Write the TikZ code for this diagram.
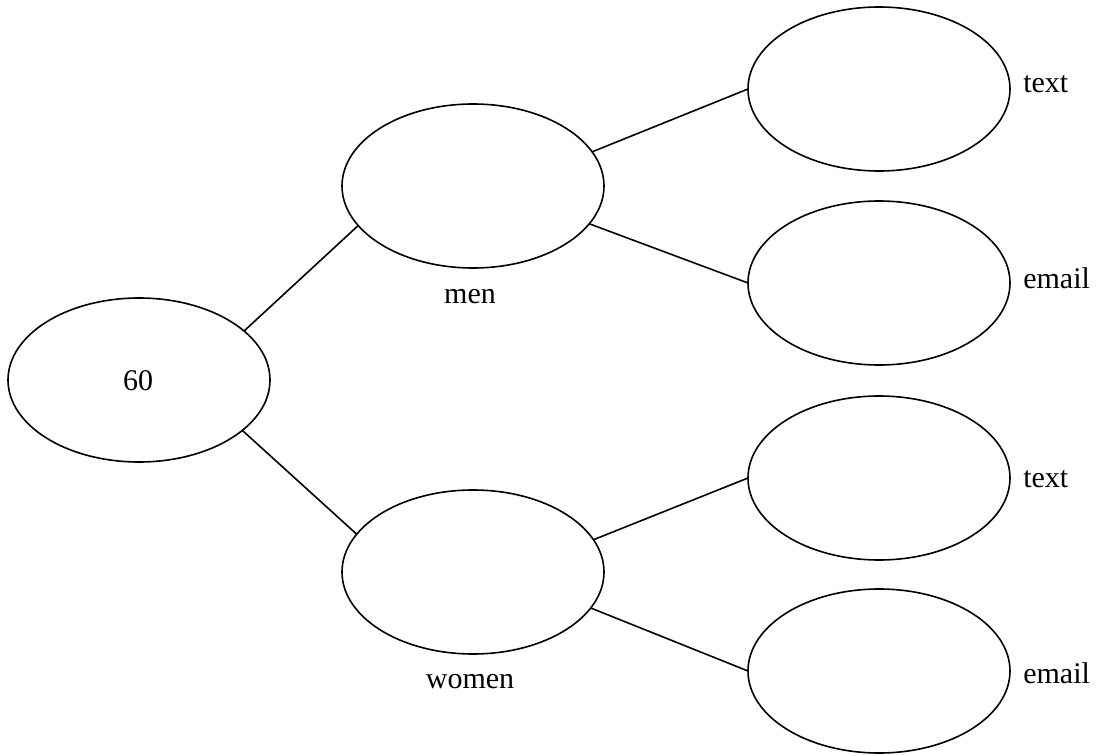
\documentclass[tikz,border=0pt]{standalone}
\usepackage{fontspec}
\setmainfont{Liberation Serif}
\usetikzlibrary{shapes.geometric}
\begin{document}
\begin{tikzpicture}[x=0.75pt,y=-0.75pt,
  oval/.style={draw, ellipse, line width=1.2pt, inner sep=0pt, outer sep=0pt,
    minimum width=196.5pt, minimum height=123pt},
  lbl/.style={inner sep=0pt, anchor=base, font=\fontsize{22.5}{27}\selectfont},
  link/.style={line width=1.2pt}]
\useasboundingbox (0,0) rectangle (1104,756);
\node[oval] (root) at (139,380) {};
\node[oval] (men) at (473,186) {};
\node[oval] (women) at (473,572) {};
\node[oval] (t1) at (879,89) {};
\node[oval] (e1) at (879,283) {};
\node[oval] (t2) at (879,478) {};
\node[oval] (e2) at (879,671) {};
\node[lbl] (l60) at (138,390) {60};
\node[lbl] (lmen) at (470,303) {men};
\node[lbl] (lwomen) at (470,688) {women};
\node[lbl, anchor=base west] (lt1) at (1023,93) {text};
\node[lbl, anchor=base west] (le1) at (1023,288) {email};
\node[lbl, anchor=base west] (lt2) at (1023,487) {text};
\node[lbl, anchor=base west] (le2) at (1023,683) {email};
\draw[link] (root.25) -- (men.199);
\draw[link] (root.-26) -- (women.162);
\draw[link] (men.16) -- (t1.west);
\draw[link] (men.-18) -- (e1.west);
\draw[link] (women.15) -- (t2.west);
\draw[link] (women.-17) -- (e2.west);
\end{tikzpicture}
\end{document}
